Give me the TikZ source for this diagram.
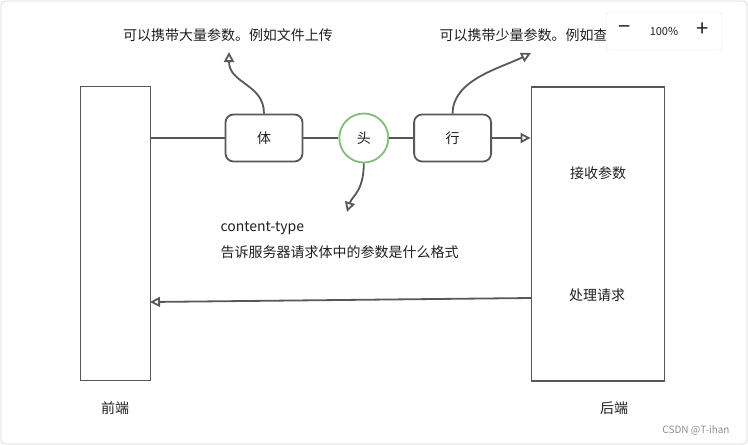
\documentclass[tikz,border=0pt]{standalone}
\usepackage{fontspec}
\setmainfont{Noto Sans CJK SC}
\usetikzlibrary{arrows.meta,positioning}
\definecolor{edge}{RGB}{88,88,88}
\definecolor{mint}{RGB}{130,190,120}
\definecolor{ringgrey}{RGB}{215,215,215}

\begin{document}
\begin{tikzpicture}[x=1pt, y=-1pt, every node/.style={font=\fontsize{14}{16}\selectfont, text=black!88},
  box/.style={draw=edge, line width=1.8pt, rounded corners=8pt, minimum width=77pt, minimum height=47pt},
  side/.style={draw=edge, line width=1.8pt, minimum height=294pt},
  wire/.style={draw=edge, line width=1.8pt}, arr/.style={wire, -{Triangle[open, length=10pt, width=10pt]}}]
\useasboundingbox (0,0) rectangle (748,445);
\draw[ringgrey, rounded corners=4pt, line width=0.8pt] (1,1) rectangle (747,444);
\node[side, minimum width=70pt] (qianduan) at (115.5,233.5) {};
\node[side, minimum width=133pt] (houduan) at (598,234) {};
\node[box] (ti) at (264,138) {体};
\node[circle, draw=mint, line width=1.8pt, minimum size=49pt, inner sep=0pt, right=35pt of ti] (tou) {头};
\node[box, right=24pt of tou] (hang) {行};
\node (shang) at (228,35) {可以携带大量参数。例如文件上传};
\node[anchor=west] (xia) at (436,35) {可以携带少量参数。例如查};
\node[anchor=west] (ctype) at (217,228) {content-type};
\node[anchor=west] (geshi) at (217,252) {告诉服务器请求体中的参数是什么格式};
\node (jieshou) at (598,173) {接收参数};
\node (chuli) at (597,295) {处理请求};
\node (qlabel) at (115,408) {前端};
\node (hlabel) at (614,408) {后端};
\coordinate (tipA) at (229,52); \coordinate (tipB) at (531,53); \coordinate (tipC) at (347,212);
\coordinate (backR) at (531,298); \coordinate (backL) at (150,302);
\draw[wire] (qianduan.east |- ti.west) -- (ti.west); \draw[wire] (ti) -- (tou); \draw[wire] (tou) -- (hang);
\draw[arr] (hang) -- (houduan.west |- hang.east);
\draw[arr] (ti.north) .. controls +(0,-30) and +(0,32) .. (tipA);
\draw[arr] (hang.north) .. controls +(0,-34) and +(-30,15) .. (tipB);
\draw[arr] (tou.south) .. controls +(0,28) and +(5,-16) .. (tipC);
\draw[arr] (backR) -- (backL);
\node[draw=black!10, fill=white, rounded corners=3pt, minimum width=116pt, minimum height=38pt] (zoombar) at (664,31) {};
\node[font=\fontsize{22}{22}\selectfont\addfontfeature{FakeBold=0}] (minus) at (625,30) {−};
\node[font=\fontsize{11}{13}\selectfont] (pct) at (664,31) {100\%};
\node[font=\fontsize{22}{22}\selectfont] (plus) at (703,30) {+};
\node[font=\fontsize{10}{12}\selectfont, text=black!45] (mark) at (696,430) {CSDN @T-ihan};
\end{tikzpicture}
\end{document}
